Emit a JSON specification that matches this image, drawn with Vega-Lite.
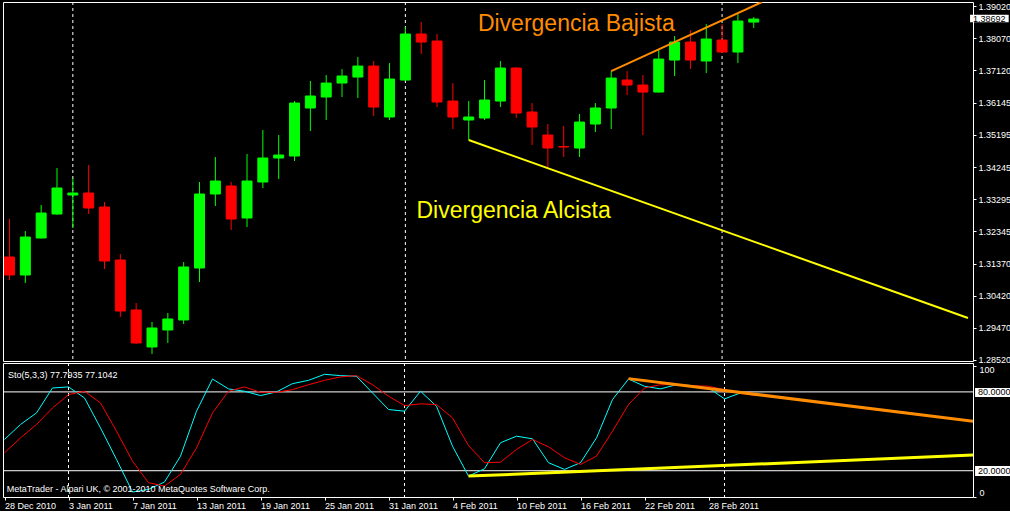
{
  "$schema": "https://vega.github.io/schema/vega-lite/v6.json",
  "background": "#000000",
  "padding": {"left": 2, "top": 1, "right": 0, "bottom": 0},
  "spacing": 2,
  "bounds": "flush",
  "config": {
    "view": {"stroke": "#FFFFFF", "strokeWidth": 1},
    "axis": {"labelFont": "Liberation Sans", "labelFontSize": 9, "labelColor": "#FFFFFF", "tickColor": "#FFFFFF", "tickSize": 3, "domain": false, "grid": false, "title": null, "labelOverlap": false},
    "text": {"font": "Liberation Sans"}
  },
  "datasets": {
    "seps": [{"i": 4}, {"i": 25}, {"i": 45}],
    "levels": [{"v": 80}, {"v": 20}],
    "candles": [
      {"i":0,"o":1.31575,"h":1.32702,"l":1.30893,"c":1.31041,"dir":"down"},
      {"i":1,"o":1.31041,"h":1.32346,"l":1.30804,"c":1.32168,"dir":"up"},
      {"i":2,"o":1.32139,"h":1.33118,"l":1.32120,"c":1.32880,"dir":"up"},
      {"i":3,"o":1.32851,"h":1.34215,"l":1.32821,"c":1.33622,"dir":"up"},
      {"i":4,"o":1.33414,"h":1.33918,"l":1.32435,"c":1.33473,"dir":"up"},
      {"i":5,"o":1.33473,"h":1.34304,"l":1.32851,"c":1.33029,"dir":"down"},
      {"i":6,"o":1.33058,"h":1.33207,"l":1.31219,"c":1.31457,"dir":"down"},
      {"i":7,"o":1.31486,"h":1.31664,"l":1.29796,"c":1.29973,"dir":"down"},
      {"i":8,"o":1.30003,"h":1.30211,"l":1.29000,"c":1.29024,"dir":"down"},
      {"i":9,"o":1.28906,"h":1.29647,"l":1.28698,"c":1.29469,"dir":"up"},
      {"i":10,"o":1.29410,"h":1.29914,"l":1.29024,"c":1.29736,"dir":"up"},
      {"i":11,"o":1.29707,"h":1.31427,"l":1.29588,"c":1.31279,"dir":"up"},
      {"i":12,"o":1.31249,"h":1.33800,"l":1.30834,"c":1.33444,"dir":"up"},
      {"i":13,"o":1.33444,"h":1.34541,"l":1.33088,"c":1.33829,"dir":"up"},
      {"i":14,"o":1.33681,"h":1.33800,"l":1.32376,"c":1.32702,"dir":"down"},
      {"i":15,"o":1.32732,"h":1.34630,"l":1.32465,"c":1.33829,"dir":"up"},
      {"i":16,"o":1.33800,"h":1.35342,"l":1.33622,"c":1.34512,"dir":"up"},
      {"i":17,"o":1.34512,"h":1.35194,"l":1.33889,"c":1.34601,"dir":"up"},
      {"i":18,"o":1.34571,"h":1.36202,"l":1.34423,"c":1.36143,"dir":"up"},
      {"i":19,"o":1.35995,"h":1.36796,"l":1.35312,"c":1.36351,"dir":"up"},
      {"i":20,"o":1.36321,"h":1.36973,"l":1.35639,"c":1.36736,"dir":"up"},
      {"i":21,"o":1.36736,"h":1.37151,"l":1.36321,"c":1.36944,"dir":"up"},
      {"i":22,"o":1.36914,"h":1.37507,"l":1.36291,"c":1.37240,"dir":"up"},
      {"i":23,"o":1.37240,"h":1.37389,"l":1.35757,"c":1.36024,"dir":"down"},
      {"i":24,"o":1.35728,"h":1.37329,"l":1.35639,"c":1.36855,"dir":"up"},
      {"i":25,"o":1.36825,"h":1.38397,"l":1.36800,"c":1.38190,"dir":"up"},
      {"i":26,"o":1.38190,"h":1.38545,"l":1.37596,"c":1.37952,"dir":"down"},
      {"i":27,"o":1.37982,"h":1.38190,"l":1.36024,"c":1.36173,"dir":"down"},
      {"i":28,"o":1.36202,"h":1.36736,"l":1.35372,"c":1.35728,"dir":"down"},
      {"i":29,"o":1.35639,"h":1.36202,"l":1.35046,"c":1.35728,"dir":"up"},
      {"i":30,"o":1.35698,"h":1.36825,"l":1.35639,"c":1.36232,"dir":"up"},
      {"i":31,"o":1.36202,"h":1.37389,"l":1.36024,"c":1.37181,"dir":"up"},
      {"i":32,"o":1.37181,"h":1.37211,"l":1.35698,"c":1.35846,"dir":"down"},
      {"i":33,"o":1.35876,"h":1.36143,"l":1.34897,"c":1.35431,"dir":"down"},
      {"i":34,"o":1.35194,"h":1.35520,"l":1.34245,"c":1.34808,"dir":"down"},
      {"i":35,"o":1.34853,"h":1.35461,"l":1.34541,"c":1.34838,"dir":"down"},
      {"i":36,"o":1.34808,"h":1.35817,"l":1.34541,"c":1.35579,"dir":"up"},
      {"i":37,"o":1.35520,"h":1.36143,"l":1.35283,"c":1.35995,"dir":"up"},
      {"i":38,"o":1.35995,"h":1.37092,"l":1.35372,"c":1.36884,"dir":"up"},
      {"i":39,"o":1.36825,"h":1.37092,"l":1.36380,"c":1.36677,"dir":"down"},
      {"i":40,"o":1.36677,"h":1.36973,"l":1.35194,"c":1.36469,"dir":"down"},
      {"i":41,"o":1.36469,"h":1.37715,"l":1.36450,"c":1.37448,"dir":"up"},
      {"i":42,"o":1.37418,"h":1.38130,"l":1.36944,"c":1.37952,"dir":"up"},
      {"i":43,"o":1.37952,"h":1.38308,"l":1.37151,"c":1.37418,"dir":"down"},
      {"i":44,"o":1.37389,"h":1.38486,"l":1.37033,"c":1.38041,"dir":"up"},
      {"i":45,"o":1.38012,"h":1.38486,"l":1.37626,"c":1.37656,"dir":"down"},
      {"i":46,"o":1.37656,"h":1.38783,"l":1.37329,"c":1.38575,"dir":"up"},
      {"i":47,"o":1.38545,"h":1.38694,"l":1.38368,"c":1.38634,"dir":"up"}
    ],
    "stoch": [
      {"i":0,"k":43.8,"d":33.6},{"i":1,"k":55.2,"d":45.0},{"i":2,"k":64.0,"d":55.2},{"i":3,"k":83.0,"d":67.8},
      {"i":4,"k":83.8,"d":77.9},{"i":5,"k":75.4,"d":80.5},{"i":6,"k":52.6,"d":71.6},{"i":7,"k":28.6,"d":50.1},
      {"i":8,"k":3.8,"d":27.3},{"i":9,"k":5.8,"d":10.9},{"i":10,"k":11.4,"d":8.3},{"i":11,"k":31.1,"d":17.2},
      {"i":12,"k":65.3,"d":37.4},{"i":13,"k":89.8,"d":64.0},{"i":14,"k":82.3,"d":80.5},{"i":15,"k":80.5,"d":83.8},
      {"i":16,"k":77.2,"d":79.7},{"i":17,"k":80.0,"d":79.7},{"i":18,"k":86.3,"d":81.7},{"i":19,"k":88.8,"d":85.5},
      {"i":20,"k":93.4,"d":88.8},{"i":21,"k":92.4,"d":91.4},{"i":22,"k":91.9,"d":92.4},{"i":23,"k":79.2,"d":85.5},
      {"i":24,"k":66.6,"d":76.7},{"i":25,"k":65.3,"d":69.6},{"i":26,"k":80.5,"d":70.9},{"i":27,"k":69.1,"d":70.4},
      {"i":28,"k":38.7,"d":60.2},{"i":29,"k":15.9,"d":39.2},{"i":30,"k":21.5,"d":26.1},{"i":31,"k":41.3,"d":26.5},
      {"i":32,"k":46.3,"d":36.2},{"i":33,"k":44.3,"d":43.8},{"i":34,"k":26.1,"d":38.2},{"i":35,"k":21.0,"d":29.9},
      {"i":36,"k":26.1,"d":24.8},{"i":37,"k":45.0,"d":31.1},{"i":38,"k":74.2,"d":50.1},{"i":39,"k":89.8,"d":70.4},
      {"i":40,"k":84.3,"d":83.0},{"i":41,"k":82.3,"d":85.5},{"i":42,"k":85.5,"d":85.5},{"i":43,"k":84.8,"d":84.8},
      {"i":44,"k":83.0,"d":84.3},{"i":45,"k":74.7,"d":81.7},{"i":46,"k":79.2,"d":79.2},{"i":47,"k":77.7935,"d":77.1042}
    ],
    "trend_main": [
      {"line":"bull","i":29,"p":1.35046},{"line":"bull","i":60.53,"p":1.29766},
      {"line":"bear","i":38,"p":1.37092},{"line":"bear","i":47.52,"p":1.39139}
    ],
    "trend_stoch": [
      {"line":"bull","i":29,"v":15.9},{"line":"bull","i":60.53,"v":31.9},
      {"line":"bear","i":39,"v":90.1},{"line":"bear","i":60.53,"v":57.7}
    ],
    "notes": [
      {"kind":"bear","i":29.58,"p":1.38287,"text":"Divergencia Bajista"},
      {"kind":"bull","i":25.7,"p":1.32732,"text":"Divergencia Alcista"}
    ],
    "pricebox": [{"i0":60.66,"i1":63.1,"p0":1.38537,"p1":1.38762,"pt":1.38649,"it":60.84,"text":"1.38692"}],
    "stochbox": [
      {"i0":60.66,"i1":63.1,"v0":76.1,"v1":83.0,"vt":79.6,"it":60.84,"text":"80.0000"},
      {"i0":60.66,"i1":63.1,"v0":16.0,"v1":23.6,"vt":19.8,"it":60.84,"text":"20.0000"}
    ],
    "stochtext": [
      {"i":0.22,"v":92.9,"text":"Sto(5,3,3) 77.7935 77.1042"},
      {"i":0.14,"v":6.1,"text":"MetaTrader - Alpari UK, © 2001-2010 MetaQuotes Software Corp."}
    ]
  },
  "vconcat": [
    {
      "width": 970,
      "height": 359,
      "layer": [
        {
          "data": {"name": "seps"},
          "mark": {"type": "rule", "color": "#FFFFFF", "strokeDash": [3, 3], "strokeWidth": 1},
          "encoding": {"x": {"field": "i", "type": "quantitative", "scale": {"domain": [-0.094, 60.53], "nice": false, "zero": false}, "axis": null}}
        },
        {
          "data": {"name": "candles"},
          "mark": {"type": "rule", "strokeWidth": 1, "clip": true},
          "encoding": {
            "x": {"field": "i", "type": "quantitative"},
            "y": {"field": "l", "type": "quantitative", "scale": {"domain": [1.2849, 1.3914], "nice": false, "zero": false},
                  "axis": {"orient": "right", "values": [1.2852, 1.2947, 1.3042, 1.3137, 1.32345, 1.33295, 1.34245, 1.35195, 1.36145, 1.3712, 1.3807, 1.3902], "tickCount": 30, "format": ".5f", "labelPadding": 2, "labelOverlap": false, "labelBound": false, "labelFlush": false}},
            "y2": {"field": "h"},
            "color": {"field": "dir", "type": "nominal", "scale": {"domain": ["up", "down"], "range": ["#00FF00", "#FF0000"]}, "legend": null}
          }
        },
        {
          "data": {"name": "candles"},
          "mark": {"type": "bar", "width": 10, "strokeWidth": 1, "clip": true},
          "encoding": {
            "x": {"field": "i", "type": "quantitative"},
            "y": {"field": "o", "type": "quantitative"},
            "y2": {"field": "c"},
            "color": {"field": "dir", "type": "nominal", "scale": {"domain": ["up", "down"], "range": ["#00FF00", "#FF0000"]}, "legend": null},
            "stroke": {"field": "dir", "type": "nominal", "scale": {"domain": ["up", "down"], "range": ["#00FF00", "#FF0000"]}, "legend": null}
          }
        },
        {
          "data": {"name": "trend_main"},
          "transform": [{"filter": "datum.line == 'bull'"}],
          "mark": {"type": "line", "color": "#FFFF00", "strokeWidth": 2, "clip": true},
          "encoding": {"x": {"field": "i", "type": "quantitative"}, "y": {"field": "p", "type": "quantitative"}}
        },
        {
          "data": {"name": "trend_main"},
          "transform": [{"filter": "datum.line == 'bear'"}],
          "mark": {"type": "line", "color": "#FF8C00", "strokeWidth": 2, "clip": true},
          "encoding": {"x": {"field": "i", "type": "quantitative"}, "y": {"field": "p", "type": "quantitative"}}
        },
        {
          "data": {"name": "notes"},
          "transform": [{"filter": "datum.kind == 'bear'"}],
          "mark": {"type": "text", "color": "#FF8C00", "fontSize": 23, "align": "left", "baseline": "alphabetic"},
          "encoding": {"x": {"field": "i", "type": "quantitative"}, "y": {"field": "p", "type": "quantitative"}, "text": {"field": "text"}}
        },
        {
          "data": {"name": "notes"},
          "transform": [{"filter": "datum.kind == 'bull'"}],
          "mark": {"type": "text", "color": "#FFFF00", "fontSize": 23, "align": "left", "baseline": "alphabetic"},
          "encoding": {"x": {"field": "i", "type": "quantitative"}, "y": {"field": "p", "type": "quantitative"}, "text": {"field": "text"}}
        },
        {
          "data": {"name": "pricebox"},
          "mark": {"type": "rect", "color": "#FFFFFF", "clip": false},
          "encoding": {"x": {"field": "i0", "type": "quantitative"}, "x2": {"field": "i1"}, "y": {"field": "p0", "type": "quantitative"}, "y2": {"field": "p1"}}
        },
        {
          "data": {"name": "pricebox"},
          "mark": {"type": "text", "color": "#000000", "fontSize": 9, "align": "left", "baseline": "middle", "clip": false},
          "encoding": {"x": {"field": "it", "type": "quantitative"}, "y": {"field": "pt", "type": "quantitative"}, "text": {"field": "text"}}
        }
      ]
    },
    {
      "width": 970,
      "height": 134,
      "layer": [
        {
          "data": {"name": "seps"},
          "mark": {"type": "rule", "color": "#FFFFFF", "strokeDash": [3, 3], "strokeWidth": 1},
          "encoding": {"x": {"field": "i", "type": "quantitative", "scale": {"domain": [-0.094, 60.53], "nice": false, "zero": false},
            "axis": {"values": [0, 4, 8, 12, 16, 20, 24, 28, 32, 36, 40, 44], "tickCount": 30, "labelAlign": "left", "labelPadding": 1, "labelFlush": false, "labelOverlap": false,
              "labelExpr": "['28 Dec 2010','3 Jan 2011','7 Jan 2011','13 Jan 2011','19 Jan 2011','25 Jan 2011','31 Jan 2011','4 Feb 2011','10 Feb 2011','16 Feb 2011','22 Feb 2011','28 Feb 2011'][round(datum.value/4)]"}}}
        },
        {
          "data": {"name": "levels"},
          "mark": {"type": "rule", "color": "#FFFFFF", "strokeWidth": 1},
          "encoding": {"y": {"field": "v", "type": "quantitative", "scale": {"domain": [0, 102], "nice": false, "zero": false},
            "axis": {"orient": "right", "values": [0, 100], "labelPadding": 3, "labelOverlap": false, "labelBaseline": {"condition": {"test": "datum.value > 50", "value": "top"}, "value": "bottom"}}}}
        },
        {
          "data": {"name": "stoch"},
          "mark": {"type": "line", "color": "#00FFFF", "strokeWidth": 1, "clip": true},
          "encoding": {"x": {"field": "i", "type": "quantitative"}, "y": {"field": "k", "type": "quantitative"}}
        },
        {
          "data": {"name": "stoch"},
          "mark": {"type": "line", "color": "#FF0000", "strokeWidth": 1, "clip": true},
          "encoding": {"x": {"field": "i", "type": "quantitative"}, "y": {"field": "d", "type": "quantitative"}}
        },
        {
          "data": {"name": "trend_stoch"},
          "transform": [{"filter": "datum.line == 'bear'"}],
          "mark": {"type": "line", "color": "#FF8C00", "strokeWidth": 3, "clip": true},
          "encoding": {"x": {"field": "i", "type": "quantitative"}, "y": {"field": "v", "type": "quantitative"}}
        },
        {
          "data": {"name": "trend_stoch"},
          "transform": [{"filter": "datum.line == 'bull'"}],
          "mark": {"type": "line", "color": "#FFFF00", "strokeWidth": 3, "clip": true},
          "encoding": {"x": {"field": "i", "type": "quantitative"}, "y": {"field": "v", "type": "quantitative"}}
        },
        {
          "data": {"name": "stochtext"},
          "mark": {"type": "text", "color": "#FFFFFF", "fontSize": 9, "align": "left", "baseline": "middle"},
          "encoding": {"x": {"field": "i", "type": "quantitative"}, "y": {"field": "v", "type": "quantitative"}, "text": {"field": "text"}}
        },
        {
          "data": {"name": "stochbox"},
          "mark": {"type": "rect", "color": "#FFFFFF", "clip": false},
          "encoding": {"x": {"field": "i0", "type": "quantitative"}, "x2": {"field": "i1"}, "y": {"field": "v0", "type": "quantitative"}, "y2": {"field": "v1"}}
        },
        {
          "data": {"name": "stochbox"},
          "mark": {"type": "text", "color": "#000000", "fontSize": 9, "align": "left", "baseline": "middle", "clip": false},
          "encoding": {"x": {"field": "it", "type": "quantitative"}, "y": {"field": "vt", "type": "quantitative"}, "text": {"field": "text"}}
        }
      ]
    }
  ]
}
